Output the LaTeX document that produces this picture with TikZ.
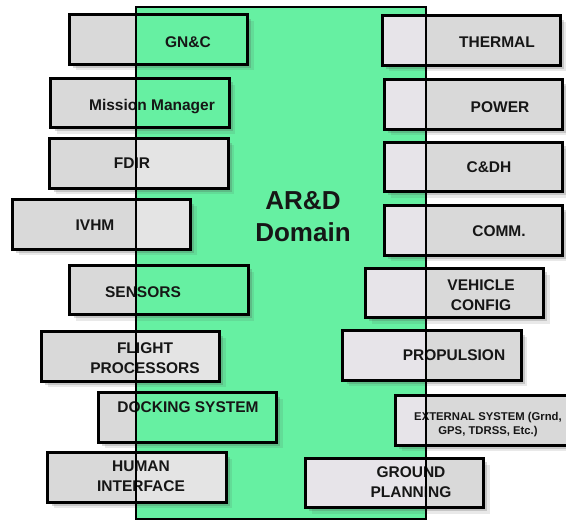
\documentclass[tikz,border=0pt]{standalone}
\usepackage{fontspec}
\setmainfont{Liberation Sans}
\usetikzlibrary{shadows}
\definecolor{domaingreen}{HTML}{66F0A2}
\definecolor{boxgray}{HTML}{D9D9D9}
\definecolor{boxlight}{HTML}{E7E4E9}
\definecolor{inktext}{HTML}{161616}
\tikzset{
  sysbox/.style={rectangle, inner sep=0pt, minimum width=178pt, minimum height=49pt,
    fill=boxgray,
    drop shadow={shadow xshift=6pt, shadow yshift=-6pt, opacity=0.12, fill=black!70},
    drop shadow={shadow xshift=3.5pt, shadow yshift=-3.5pt, opacity=0.22, fill=black!70}},
  boxline/.style={draw=black, line width=2.8pt},
  domainline/.style={draw=black, line width=2.5pt},
  lbl/.style={inner sep=0pt, anchor=north, text=inktext, font=\bfseries\fontsize{15.5}{20}\selectfont, align=center},
  smalllbl/.style={lbl, font=\bfseries\fontsize{11.3}{14}\selectfont},
  biglbl/.style={lbl, font=\bfseries\fontsize{26}{32}\selectfont}
}
\begin{document}
\begin{tikzpicture}[x=1pt, y=-1pt]
\useasboundingbox (0,0) rectangle (566,522);
\fill[white] (0,0) rectangle (566,522);

% the AR&D domain panel
\node[rectangle, inner sep=0pt, minimum width=290pt, minimum height=512pt, fill=domaingreen] (domain) at (281,263) {};

% left column of subsystems
\node[sysbox] (gnc)     at (158.5,39.5) {};
\node[sysbox] (mm)      at (140,103) {};
\node[sysbox] (fdir)    at (139,163.5) {};
\node[sysbox] (ivhm)    at (101.5,224.5) {};
\node[sysbox] (sensors) at (159,290) {};
\node[sysbox] (flight)  at (130.5,356.5) {};
\node[sysbox] (docking) at (187.5,417.5) {};
\node[sysbox] (human)   at (137,477.5) {};

% right column of subsystems
\node[sysbox] (thermal) at (471.5,40.5) {};
\node[sysbox] (power)   at (473.5,104.5) {};
\node[sysbox] (cdh)     at (473.5,167) {};
\node[sysbox] (comm)    at (473.5,230.5) {};
\node[sysbox] (vehicle) at (454.5,293) {};
\node[sysbox] (prop)    at (432,355.5) {};
\node[sysbox] (ext)     at (484.5,420.5) {};
\node[sysbox] (ground)  at (394.5,483) {};

% parts of the boxes that lie inside the domain
\begin{scope}
  \clip (domain.north west) rectangle (domain.south east);
  \foreach \b in {gnc,mm,sensors,docking}
    \fill[domaingreen] (\b.north west) rectangle (\b.south east);
  \foreach \b in {fdir,ivhm,flight,human}
    \fill[boxgray!70!white] (\b.north west) rectangle (\b.south east);
  \foreach \b in {thermal,power,cdh,comm,vehicle,prop,ext,ground}
    \fill[boxlight] (\b.north west) rectangle (\b.south east);
\end{scope}

% box outlines
\foreach \b in {gnc,mm,fdir,ivhm,sensors,flight,docking,human,
                thermal,power,cdh,comm,vehicle,prop,ext,ground}
  \draw[boxline] (\b.north west) rectangle (\b.south east);

% labels
\node[lbl] (gnc-t)     at (188,36)  {GN\&C};
\node[lbl] (mm-t)      at (152,99)  {Mission Manager};
\node[lbl] (fdir-t)    at (132,158) {FDIR};
\node[lbl] (ivhm-t)    at (95,220)  {IVHM};
\node[lbl] (sensors-t) at (143,286) {SENSORS};
\node[lbl] (flight-t)  at (145,342) {FLIGHT\\PROCESSORS};
\node[lbl] (docking-t) at (188,401) {DOCKING SYSTEM};
\node[lbl] (human-t)   at (141,461) {HUMAN\\INTERFACE};

\node[lbl] (thermal-t) at (497,37)  {THERMAL};
\node[lbl] (power-t)   at (500,101) {POWER};
\node[lbl] (cdh-t)     at (489,161) {C\&DH};
\node[lbl] (comm-t)    at (499,225) {COMM.};
\node[lbl] (vehicle-t) at (481,279) {VEHICLE\\CONFIG};
\node[lbl] (prop-t)    at (454,349) {PROPULSION};
\node[smalllbl] (ext-t) at (488,412) {EXTERNAL SYSTEM (Grnd,\\GPS, TDRSS, Etc.)};
\node[lbl] (ground-t)  at (411,466) {GROUND\\PLANNING};

\node[biglbl] (domain-t) at (303,191) {AR\&D\\Domain};

% domain border on top
\draw[domainline] (domain.north west) rectangle (domain.south east);
\end{tikzpicture}
\end{document}
